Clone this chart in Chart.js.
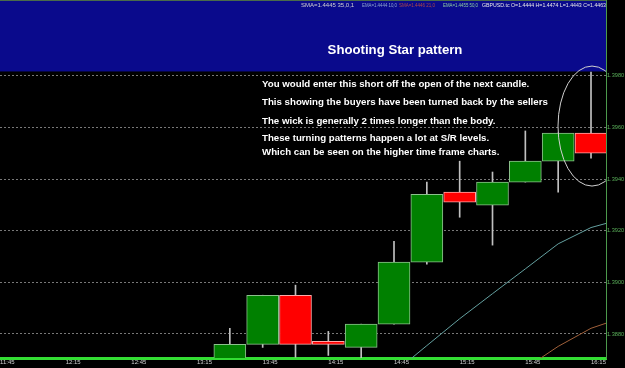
<!DOCTYPE html>
<html>
<head>
<meta charset="utf-8">
<script src="https://cdn.jsdelivr.net/npm/chart.js@4/dist/chart.umd.min.js"></script>
<style>
  html, body { margin: 0; padding: 0; background: #000; }
  #wrap { width: 625px; height: 368px; }
</style>
</head>
<body>
<div id="wrap"><canvas id="chart"></canvas></div>
<script>
// GBPUSD 15 min candles
var times  = ['13:30', '13:45', '14:00', '14:15', '14:30', '14:45', '15:00', '15:15', '15:30', '15:45', '16:00', '16:15'];
var opens  = [1.38690, 1.38760, 1.38950, 1.38772, 1.38748, 1.38838, 1.39078, 1.39349, 1.39299, 1.39388, 1.39469, 1.39578];
var highs  = [1.38822, 1.38950, 1.38989, 1.38810, 1.38838, 1.39159, 1.39388, 1.39469, 1.39427, 1.39586, 1.39578, 1.39814];
var lows   = [1.38675, 1.38748, 1.38710, 1.38717, 1.38702, 1.38838, 1.39070, 1.39252, 1.39144, 1.39388, 1.39349, 1.39481];
var closes = [1.38760, 1.38950, 1.38760, 1.38760, 1.38838, 1.39078, 1.39341, 1.39310, 1.39388, 1.39469, 1.39578, 1.39500];

// moving averages
var maTimes = ['14:45', '15:00', '15:15', '15:30', '15:45', '16:00', '16:15', '16:30'];
var maSlow  = [1.38650, 1.38755, 1.38859, 1.38956, 1.39052, 1.39149, 1.39212, 1.39247];
var maLong  = [null, null, null, null, 1.38667, 1.38752, 1.38822, 1.38865];

var xTickLabels = ['11:45', '12:15', '12:45', '13:15', '13:45', '14:15', '14:45', '15:15', '15:45', '16:15'];
var yTickValues = [1.3880, 1.3900, 1.3920, 1.3940, 1.3960, 1.3980];

var notes = [
    'You would enter this short off the open of the next candle.',
    'This showing the buyers have been turned back by the sellers',
    'The wick is generally 2 times longer than the body.',
    'These turning patterns happen a lot at S/R levels.',
    'Which can be seen on the higher time frame charts.'
];

var legendItems = ['SMA=1.4445 35,0,1', 'EMA=1.4444 10,0', 'SMA=1.4446 21,0', 'EMA=1.4455 50,0',
    'GBPUSD.tc O=1.4444 H=1.4474 L=1.4443 C=1.4463'];
var legendColors = ['#d0d0d0', '#90a8d0', '#b04848', '#90d0a0', '#e8e8e8'];

var toMin = function(t) {
    var p = t.split(':');
    return parseInt(p[0], 10) * 60 + parseInt(p[1], 10);
};
var fmtMin = function(m) {
    var h = Math.floor(m / 60), mm = m % 60;
    return h + ':' + (mm < 10 ? '0' : '') + mm;
};

var bodies = [], wicks = [], bodyColors = [], edgeColors = [];
for (var i = 0; i < times.length; i++) {
    var up = closes[i] >= opens[i];
    bodies.push({x: toMin(times[i]), y: [opens[i], closes[i]]});
    wicks.push({x: toMin(times[i]), y: [lows[i], highs[i]]});
    bodyColors.push(up ? '#008000' : '#ff0000');
    edgeColors.push(up ? '#8cc08c' : '#ffa8a8');
}
var lineData = function(vals) {
    var out = [];
    for (var i = 0; i < maTimes.length; i++) {
        out.push({x: toMin(maTimes[i]), y: vals[i]});
    }
    return out;
};

var overlay = {
    id: 'overlay',
    beforeDatasetsDraw: function(chart) {
        var ctx = chart.ctx, a = chart.chartArea;
        ctx.save();
        ctx.fillStyle = '#0a0a8c';
        ctx.fillRect(a.left, 0, a.right - a.left, 71);
        ctx.fillStyle = '#050540';
        ctx.fillRect(a.left, 71, a.right - a.left, 1);
        ctx.strokeStyle = '#4a6b4a';
        ctx.lineWidth = 1;
        ctx.beginPath();
        ctx.moveTo(a.left, 0.5);
        ctx.lineTo(a.right, 0.5);
        ctx.stroke();
        ctx.restore();
    },
    afterDatasetsDraw: function(chart) {
        var ctx = chart.ctx, a = chart.chartArea;
        var xs = chart.scales.x, ys = chart.scales.y;
        ctx.save();

        // ellipse round the last candle
        ctx.beginPath();
        ctx.rect(a.left, 0, a.right - a.left, a.bottom);
        ctx.clip();
        ctx.strokeStyle = '#d0d0d0';
        ctx.lineWidth = 1;
        ctx.beginPath();
        ctx.ellipse(xs.getPixelForValue(toMin('16:15')) + 1, ys.getPixelForValue(1.39605), 34, 60, 0, 0, Math.PI * 2);
        ctx.stroke();
        ctx.restore();

        ctx.save();
        ctx.fillStyle = '#ffffff';
        ctx.textBaseline = 'middle';
        ctx.textAlign = 'center';
        ctx.font = 'bold 13.2px "Liberation Sans", Arial, sans-serif';
        ctx.fillText('Shooting Star pattern', 395, 50);

        ctx.textAlign = 'left';
        ctx.font = 'bold 9.7px "Liberation Sans", Arial, sans-serif';
        var ny = [84, 102, 121, 138, 152];
        for (var i = 0; i < notes.length; i++) {
            ctx.fillText(notes[i], 262, ny[i]);
        }

        // indicator legend along the top, each item squeezed to its slot
        ctx.font = '6px "Liberation Sans", sans-serif';
        var lx = [301, 362, 399, 443, 482];
        var lw = [55, 35, 36, 35, 124];
        for (var j = 0; j < legendItems.length; j++) {
            var w = ctx.measureText(legendItems[j]).width;
            ctx.save();
            ctx.translate(lx[j], 5);
            ctx.scale(Math.min(1, lw[j] / w), 1);
            ctx.fillStyle = legendColors[j];
            ctx.fillText(legendItems[j], 0, 0);
            ctx.restore();
        }
        ctx.restore();
    }
};

var noPad = function(s) {
    s.paddingLeft = s.paddingRight = s.paddingTop = s.paddingBottom = 0;
};

new Chart(document.getElementById('chart'), {
    type: 'bar',
    data: {
        datasets: [
            {
                type: 'line',
                data: lineData(maSlow),
                borderColor: '#64a0a0',
                borderWidth: 1,
                pointRadius: 0,
                tension: 0,
                order: 0
            },
            {
                type: 'line',
                data: lineData(maLong),
                borderColor: '#a0603a',
                borderWidth: 1,
                pointRadius: 0,
                tension: 0,
                order: 0
            },
            {
                data: bodies,
                backgroundColor: bodyColors,
                borderColor: edgeColors,
                borderWidth: 1,
                borderSkipped: false,
                barThickness: 32,
                grouped: false,
                order: 1
            },
            {
                data: wicks,
                backgroundColor: '#c0c0c0',
                borderWidth: 0,
                barThickness: 1,
                grouped: false,
                order: 2
            }
        ]
    },
    options: {
        responsive: true,
        maintainAspectRatio: false,
        animation: false,
        layout: { padding: 0 },
        plugins: {
            legend: { display: false },
            tooltip: { enabled: false }
        },
        scales: {
            x: {
                type: 'linear',
                offset: false,
                min: toMin('11:45'),
                max: 981.85,
                afterBuildTicks: function(axis) {
                    axis.ticks = xTickLabels.map(function(t) { return {value: toMin(t)}; });
                },
                afterFit: function(s) { s.height = 10; noPad(s); },
                grid: { display: true, drawOnChartArea: false, drawTicks: false },
                border: { display: true, color: '#33dd33', width: 3 },
                ticks: {
                    align: 'start',
                    autoSkip: false,
                    maxRotation: 0,
                    padding: 1,
                    color: '#d0d0d0',
                    font: { family: 'Liberation Sans', size: 6 },
                    callback: function(v) { return fmtMin(v); }
                }
            },
            y: {
                position: 'right',
                min: 1.38707,
                max: 1.40093,
                beginAtZero: false,
                afterBuildTicks: function(axis) {
                    axis.ticks = yTickValues.map(function(v) { return {value: v}; });
                },
                afterFit: function(s) { s.width = 19; noPad(s); },
                grid: { color: '#787878', lineWidth: 1, drawTicks: false },
                border: { display: true, color: '#4c9a4c', width: 1, dash: [2, 2] },
                ticks: {
                    padding: 1,
                    color: '#5ab05a',
                    font: { family: 'Liberation Sans', size: 5.6 },
                    callback: function(v) { return v.toFixed(4); }
                }
            }
        }
    },
    plugins: [overlay]
});
</script>
</body>
</html>
